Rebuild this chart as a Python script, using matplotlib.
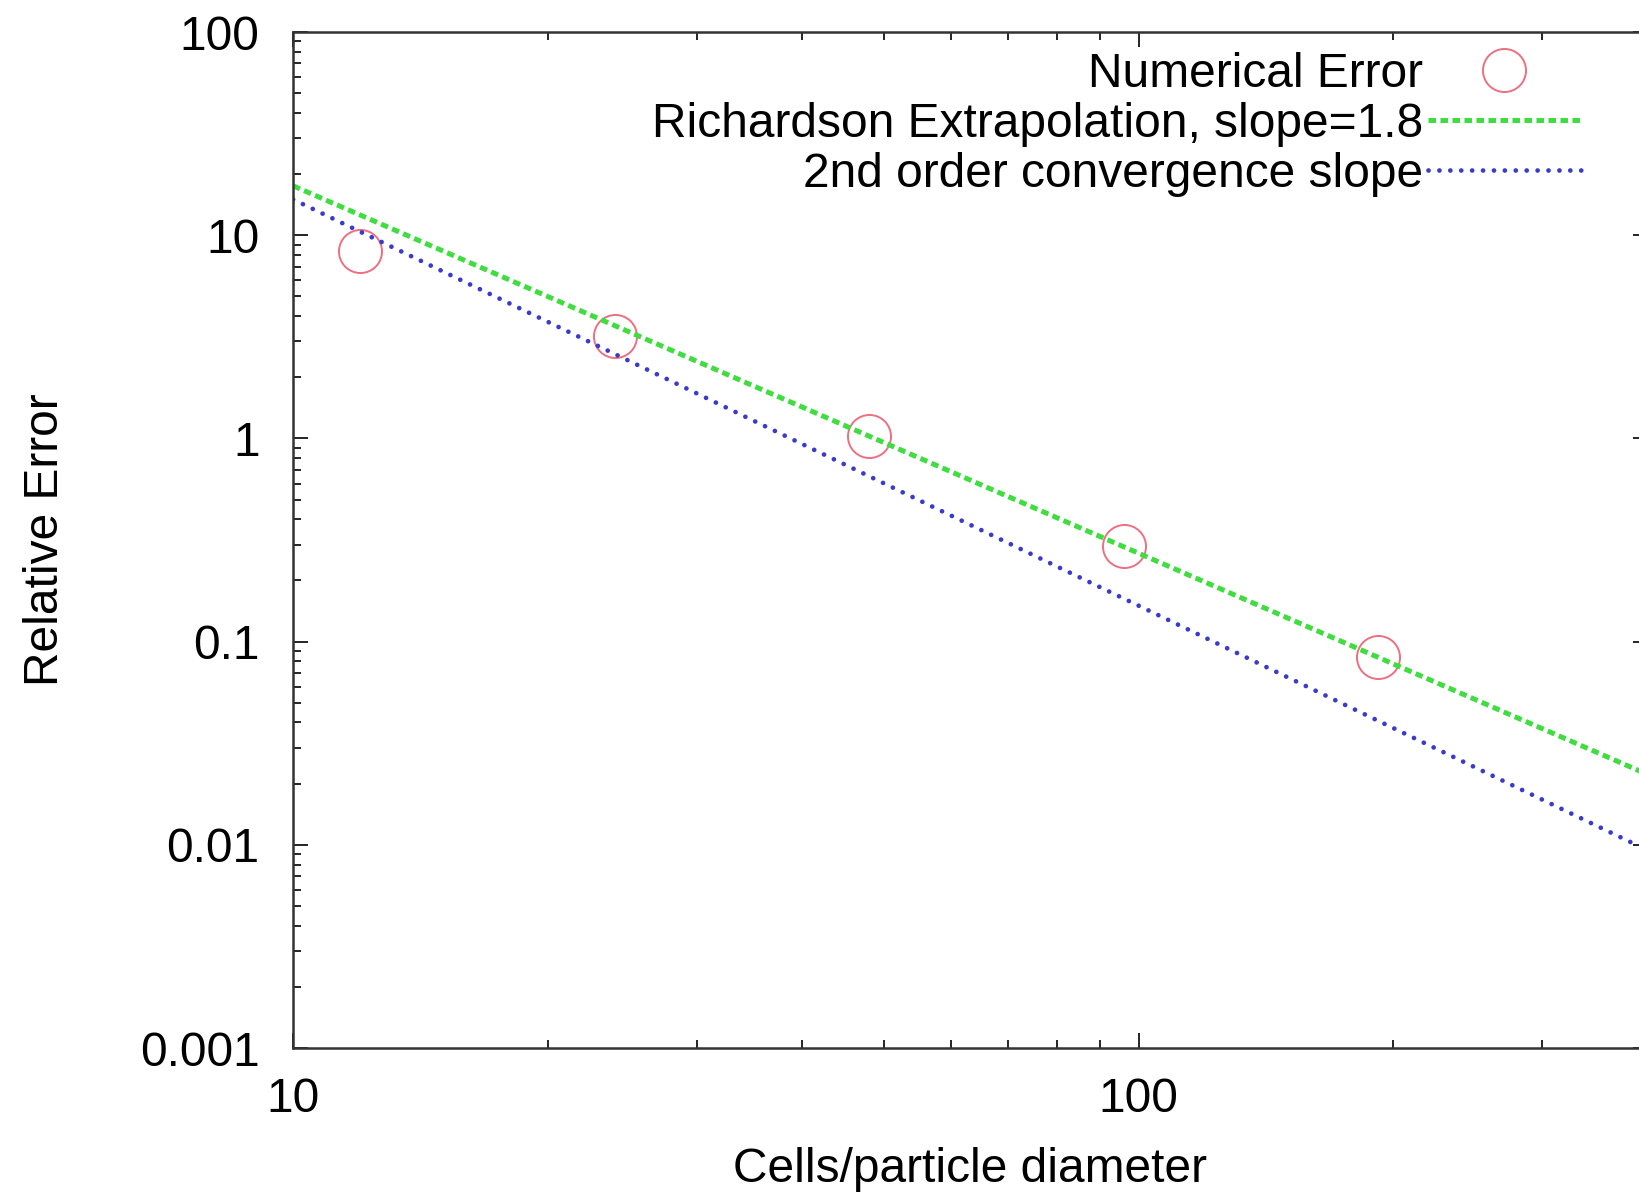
import matplotlib
matplotlib.use("Agg")
import matplotlib.pyplot as plt

# === DATA ===
# cells per particle diameter and measured relative error (read off the plot)
cells = [12, 24, 48, 96, 192]
rel_error = [8.4, 3.2, 1.03, 0.295, 0.084]

# fitted lines, endpoints only (log-log straight lines)
line_x = [10, 400]
richardson_y = [17.5, 0.0222]   # slope 1.8
second_order_y = [15.0, 0.0094]  # slope 2

plt.rcParams["font.family"] = ["Liberation Sans", "DejaVu Sans"]
plt.rcParams["font.size"] = 34.5

fig = plt.figure(figsize=(16.4, 11.99), dpi=100)
ax = fig.add_axes([0.1787, 0.1259, 0.826, 0.8474])

ax.plot(cells, rel_error, linestyle="none", marker="o", markersize=31,
        markerfacecolor="none", markeredgecolor="#ec7080", markeredgewidth=1.4,
        label="Numerical Error")
ax.plot(line_x, richardson_y, color="#40dd40", linewidth=3.6,
        dashes=(1.5, 0.9), label="Richardson Extrapolation, slope=1.8")
ax.plot(line_x, second_order_y, color="#3a3acc", linewidth=3.4,
        dashes=(0.01, 2.3), dash_capstyle="round",
        label="2nd order convergence slope")

ax.set_xscale("log")
ax.set_yscale("log")
ax.set_xlim(10, 400)
ax.set_ylim(0.001, 100)

ax.set_xticks([10, 100])
ax.set_xticklabels(["10", "100"])
ax.set_yticks([0.001, 0.01, 0.1, 1, 10, 100])
ax.set_yticklabels(["0.001", "0.01", "0.1", "1", "10", "100"])

ax.tick_params(which="both", direction="in", top=True, right=True, width=1.2)
ax.tick_params(which="major", length=11)
ax.tick_params(which="minor", length=6)
ax.tick_params(axis="y", which="major", pad=24)
ax.tick_params(axis="x", which="major", pad=21)
for s in ax.spines.values():
    s.set_linewidth(1.8)
    s.set_color("#333333")

ax.set_xlabel("Cells/particle diameter", labelpad=18)
ax.set_ylabel("Relative Error", labelpad=52)

leg = ax.legend(loc="upper right", frameon=False, markerfirst=False,
                handlelength=3.2, handletextpad=0.1, labelspacing=0.1,
                borderpad=0, borderaxespad=0,
                bbox_to_anchor=(1581 / 1640, 0.9565),
                bbox_transform=fig.transFigure, fontsize=34.5)
for t in leg.get_texts():
    t.set_ha("right")

fig.savefig("out.png", dpi=100)
